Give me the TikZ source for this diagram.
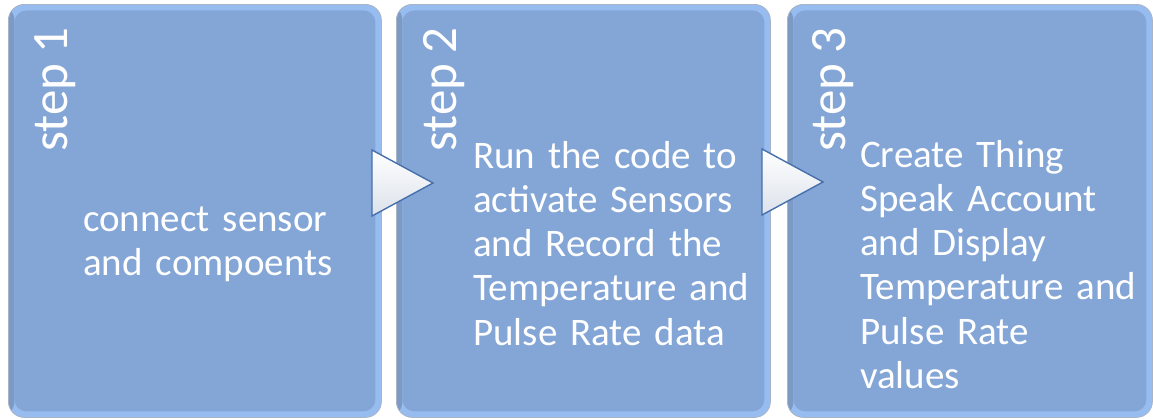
\documentclass[tikz,border=0pt]{standalone}
\usepackage{fontspec}
\setmainfont{Carlito}[WordSpace=0.85]
\usetikzlibrary{calc}
\definecolor{mainblue}{HTML}{84A6D6}
\definecolor{edgeblue}{HTML}{97BDF0}
\definecolor{leftdark}{HTML}{7C9AC4}
\definecolor{boxline}{HTML}{A9B4C6}
\definecolor{triline}{HTML}{4670AC}
\definecolor{trilow}{HTML}{DCE2EB}
\begin{document}
\begin{tikzpicture}[x=1pt,y=-1pt,
  stepbox/.style={rounded corners=16pt, fill=edgeblue, draw=boxline, line width=0.8pt,
    minimum height=413pt, inner sep=0pt, anchor=north west,
    path picture={
      \fill[leftdark] (path picture bounding box.south west) rectangle ([xshift=6pt]path picture bounding box.north west);
      \fill[mainblue, rounded corners=12pt] ([shift={(6pt,-6pt)}]path picture bounding box.north west) rectangle ([shift={(-6pt,6pt)}]path picture bounding box.south east);
    }},
  steplabel/.style={rotate=90, anchor=base west, inner sep=0pt, text=white,
    font=\fontsize{51}{56}\selectfont},
  bodytext/.style={anchor=base west, inner sep=0pt, text=white, align=left,
    text width=300pt, font=\fontsize{39}{44.3}\selectfont},
  tri/.style={draw=triline, line width=1.4pt, line join=miter, top color=white, bottom color=trilow}
]
\useasboundingbox (0,0) rectangle (1153,418);

\node[stepbox, minimum width=373pt] (b1) at (8,4) {};
\node[stepbox, minimum width=374pt] (b2) at (396,4) {};
\node[stepbox, minimum width=365pt] (b3) at (787,4) {};

\node[steplabel] (l1) at (67,152) {step 1};
\node[steplabel] (l2) at (456,152) {step 2};
\node[steplabel] (l3) at (845,152) {step 3};

\node[bodytext] (t1) at (83,231) {connect sensor\\and compoents};
\node[bodytext] (t2) at (473,168) {Run the code to\\activate Sensors\\and Record the\\Temperature and\\Pulse Rate data};
\node[bodytext] (t3) at (860,167) {Create Thing\\Speak Account\\and Display\\Temperature and\\Pulse Rate\\values};

\coordinate (a1) at (372,150);
\coordinate (a2) at (762,149);
\draw[tri] (a1) -- ($(a1)+(0,66)$) -- ($(a1)+(61,33)$) -- cycle;
\draw[tri] (a2) -- ($(a2)+(0,66)$) -- ($(a2)+(61,33)$) -- cycle;
\end{tikzpicture}
\end{document}
